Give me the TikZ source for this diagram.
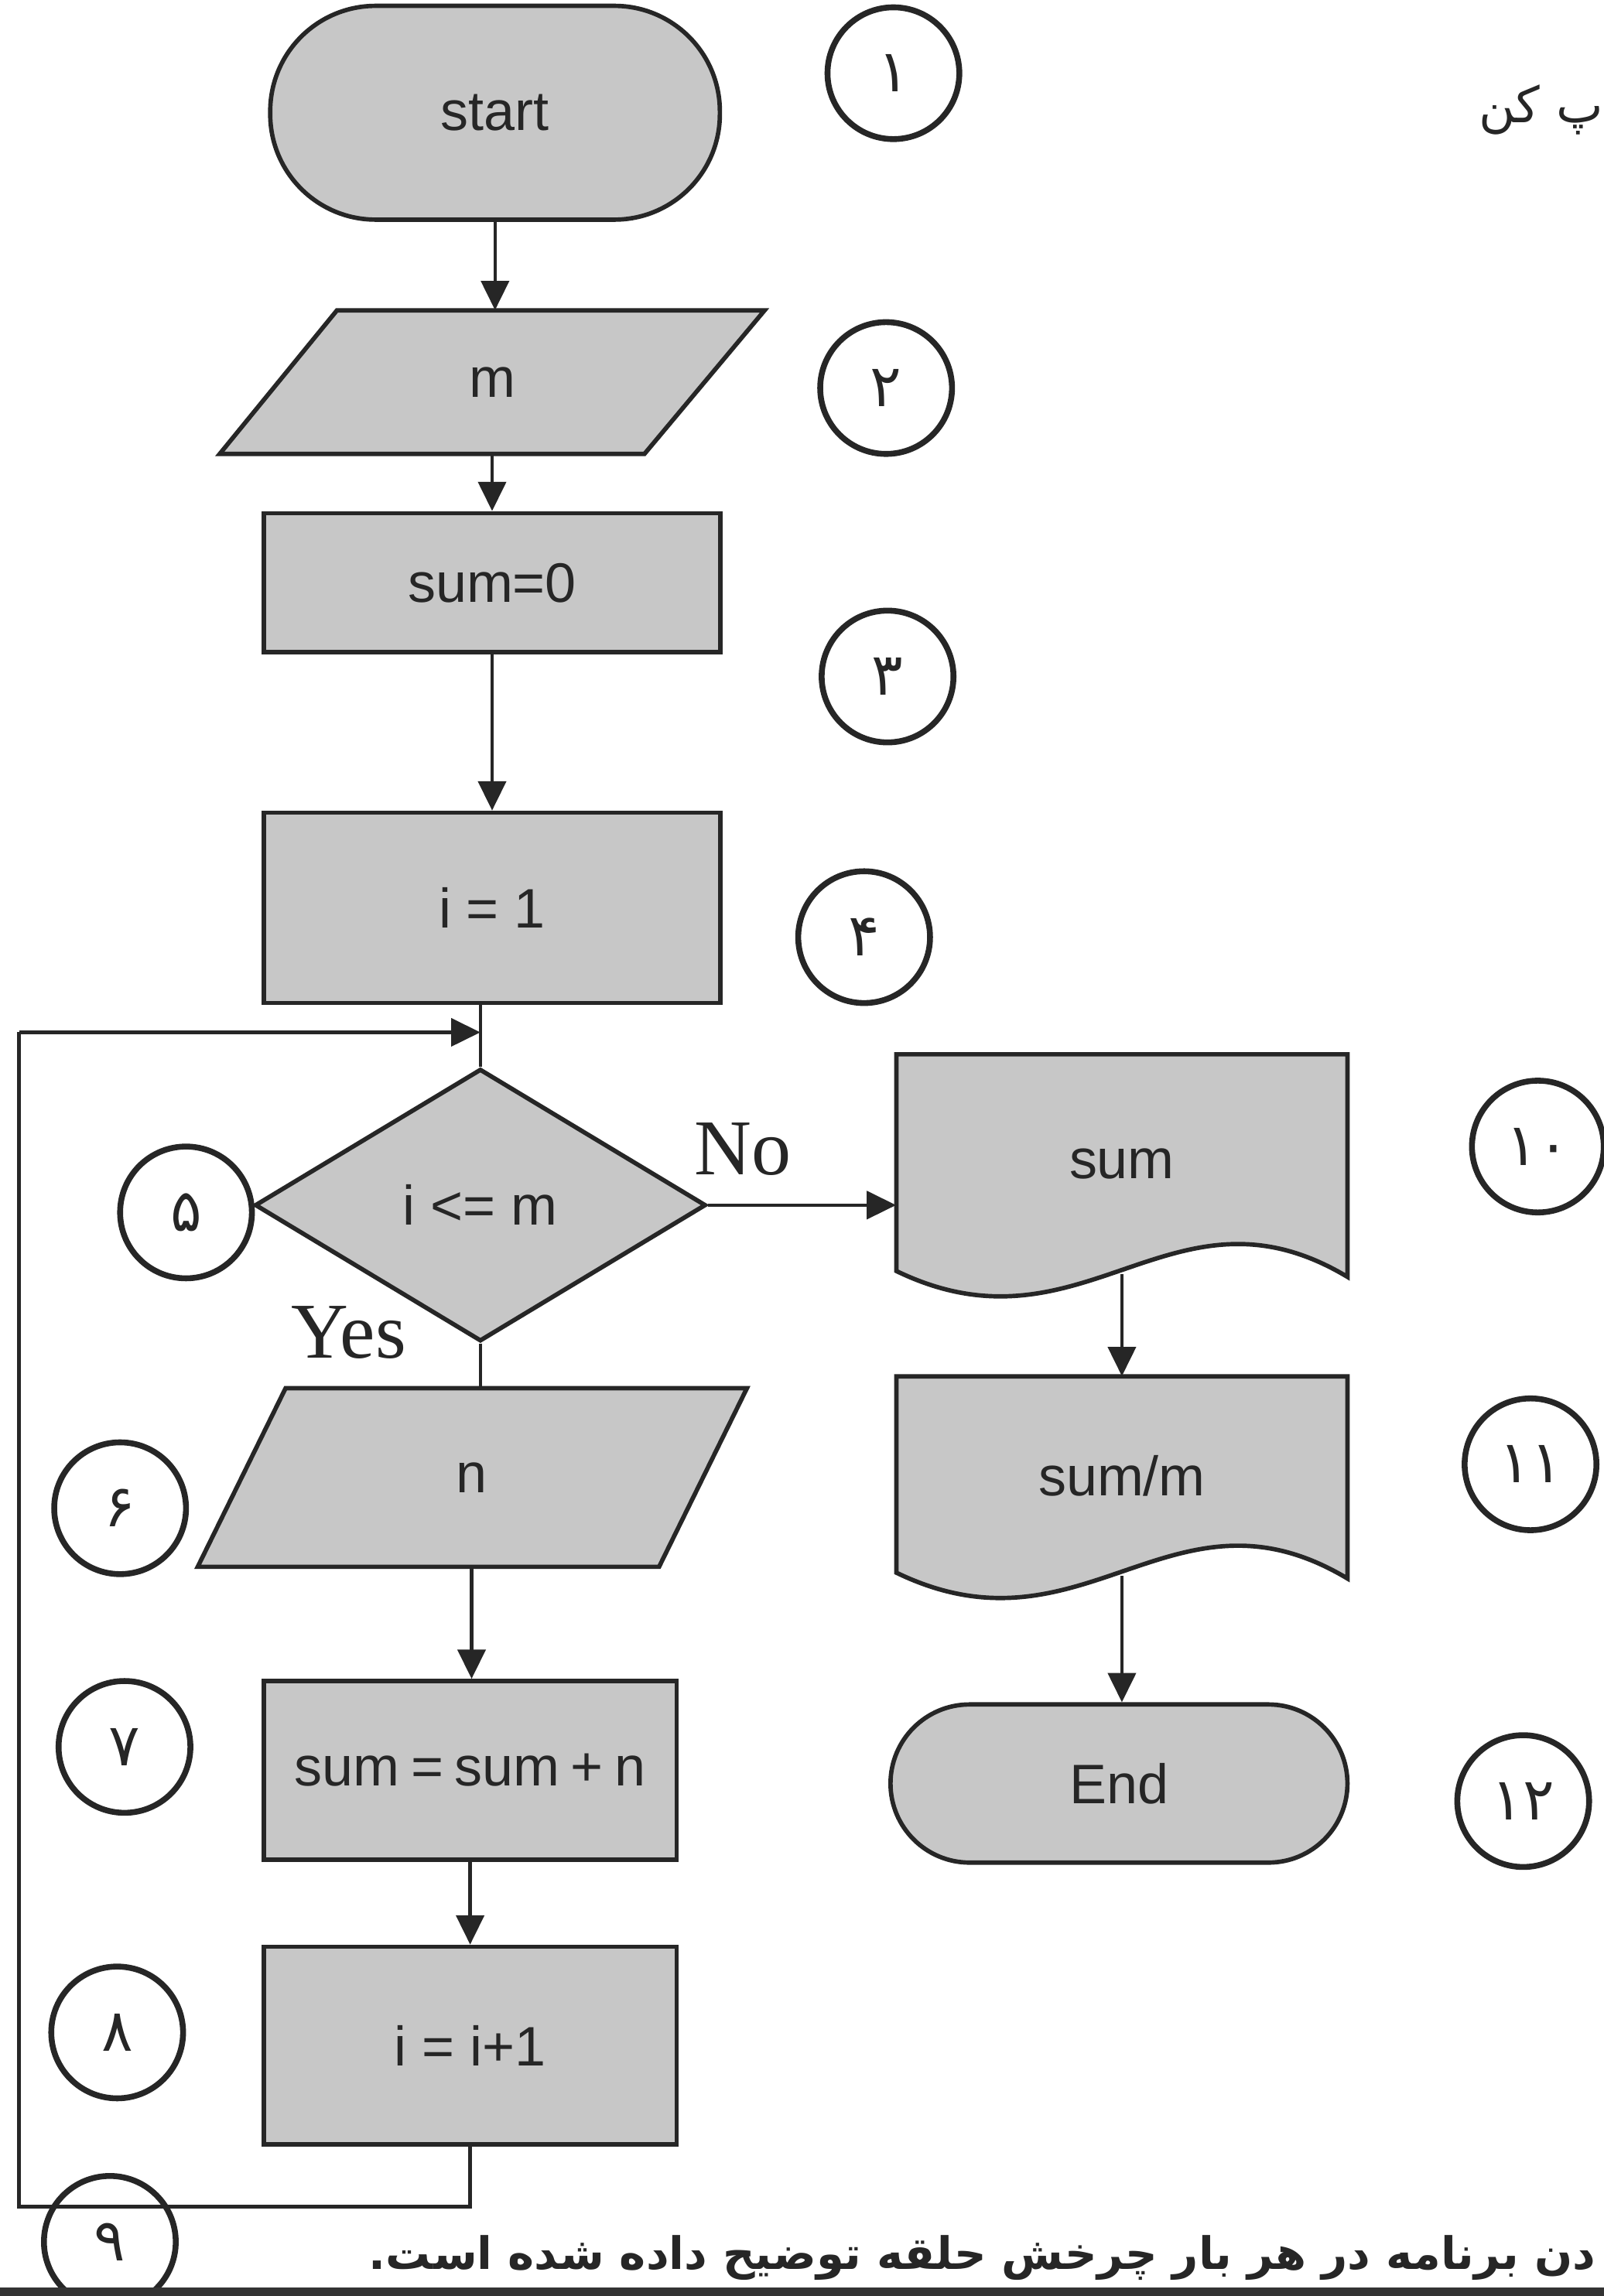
\documentclass[tikz,border=0pt]{standalone}
\usepackage{fontspec}
\setmainfont{Liberation Sans}
\newfontfamily\seriffont{Liberation Serif}
\newfontfamily\arabicfont[Script=Arabic]{DejaVu Sans}
\TeXXeTstate=1
\usetikzlibrary{arrows.meta,shapes.geometric,calc}
\tikzset{
  ink/.style={draw=black!85, line width=3pt, fill=black!22},
  box/.style={ink, inner sep=0pt, font=\fontsize{38}{40}\selectfont, text=black!85},
  ghost/.style={inner sep=0pt, font=\fontsize{38}{40}\selectfont, text=black!85},
  num/.style={circle, draw=black!85, line width=4pt, minimum size=90pt, inner sep=0pt,
              font=\arabicfont\fontsize{40}{42}\selectfont, text=black!85},
  conn/.style={line width=2.4pt, draw=black!85},
  arr/.style={conn, -{Triangle[length=20pt,width=19pt]}},
  lab/.style={font=\seriffont\fontsize{54}{56}\selectfont, text=black!85},
  persian/.style={font=\arabicfont\bfseries\fontsize{30.5}{32}\selectfont, text=black!85}
}
\begin{document}
\begin{tikzpicture}[x=1pt,y=-1pt]
\useasboundingbox[fill=white] (0,0) rectangle (1095,1568);

% ---- left column ----
\node[box, rounded corners=72pt, minimum width=307pt, minimum height=146pt] (start) at (338,77) {start};

\draw[ink] (230,212) -- (522,212) -- (440,310) -- (150,310) -- cycle;
\node[ghost, minimum width=372pt, minimum height=98pt] (m) at (336,261) {m};

\node[box, minimum width=312pt, minimum height=95pt] (s0) at (336,398) {sum=0};
\node[box, minimum width=312pt, minimum height=130pt] (i1) at (336,620) {i = 1};

\node[box, diamond, aspect=1.66, minimum width=308pt, minimum height=186pt] (d) at (328,823) {i <= m};

\draw[ink] (195,948) -- (510,948) -- (450,1070) -- (135,1070) -- cycle;
\node[ghost, minimum width=375pt, minimum height=122pt] (n) at (322,1009) {n};

\node[box, minimum width=282pt, minimum height=122pt] (ss) at (321,1209) {sum\hspace{0.2em}=\hspace{0.2em}sum\hspace{0.2em}+\hspace{0.2em}n};
\node[box, minimum width=282pt, minimum height=135pt] (ii) at (321,1397) {i = i+1};

% ---- right column ----
\draw[ink] (612,720) -- (920,720) -- (920,872) .. controls (800,800) and (740,930) .. (612,868) -- cycle;
\node[ghost, minimum width=308pt, minimum height=150pt] (sd) at (766,795) {sum};

\draw[ink] (612,940) -- (920,940) -- (920,1078) .. controls (800,1006) and (740,1136) .. (612,1074) -- cycle;
\node[ghost, minimum width=308pt, minimum height=136pt] (sm) at (766,1008) {sum/m};

\node[box, rounded corners=54pt, minimum width=312pt, minimum height=108pt] (end) at (764,1218) {End};

% ---- labels ----
\node[lab] (no) at (507,785) {No};
\node[lab] (yes) at (238,910) {Yes};

% ---- numbered circles ----
\node[num] (c1) at (610,50) {۱};
\node[num] (c2) at (605,265) {۲};
\node[num] (c3) at (606,462) {۳};
\node[num] (c4) at (590,640) {۴};
\node[num] (c5) at (127,828) {۵};
\node[num] (c6) at (82,1030) {۶};
\node[num] (c7) at (85,1193) {۷};
\node[num] (c8) at (80,1388) {۸};
\node[num] (c9) at (75,1531) {۹};
\node[num] (c10) at (1050,783) {۱۰};
\node[num] (c11) at (1045,1000) {۱۱};
\node[num] (c12) at (1040,1230) {۱۲};

% ---- connectors ----
\draw[arr] (start.south) -- (start.south |- m.north);
\draw[arr] (m.south) -- (m.south |- s0.north);
\draw[arr] (s0.south) -- (s0.south |- i1.north);
\draw[conn] (i1.south -| d.north) -- (d.north);
\draw[arr] (d.east) -- (d.east -| sd.west);
\draw[conn] (d.south) -- (d.south |- n.north);
\draw[arr] (n.south) -- (n.south |- ss.north);
\draw[arr] (ss.south) -- (ss.south |- ii.north);
\coordinate (lb) at (13,1507);
\coordinate (lt) at (13,705);
\draw[conn] (ii.south) -- (ii.south |- lb) -- (lb) -- (lt);
\draw[arr] (lt) -- (lt -| d.north);
\draw[arr] (sd.south) -- (sd.south |- sm.north);
\draw[arr] (sm.south) -- (sm.south |- end.north);

% ---- page text ----
\node[persian, anchor=base east] (cap) at (1093,1550) {\beginR دن برنامه در هر بار چرخش حلقه توضیح داده شده است.\endR};
\node[persian, anchor=base east, font=\arabicfont\fontsize{34}{36}\selectfont] (top) at (1098,84) {\beginR پ کن\endR};
\draw[line width=6pt, black!80] (0,1565) -- (1095,1565);
\end{tikzpicture}
\end{document}
